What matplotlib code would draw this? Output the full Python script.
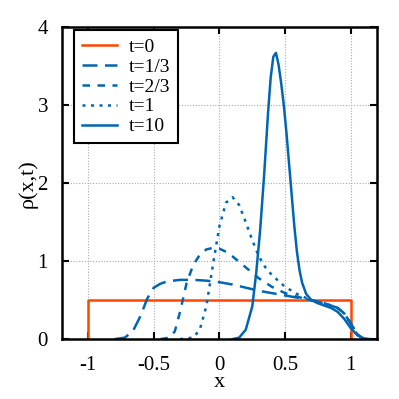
import matplotlib.pyplot as plt

plt.rcParams['font.family'] = ['Liberation Serif', 'DejaVu Serif']

# t=0 : box between -1 and 1
x0 = [-1, -1, 1, 1]
y0 = [0, 0.5, 0.5, 0]

# t=1/3
x1 = [-0.80, -0.72, -0.66, -0.6, -0.55, -0.5, -0.45, -0.4, -0.3, -0.2, -0.1, 0, 0.1, 0.2, 0.3,
      0.4, 0.5, 0.6, 0.7, 0.8, 0.9, 0.95, 1.0, 1.05, 1.1]
y1 = [0, 0.02, 0.1, 0.3, 0.52, 0.66, 0.71, 0.74, 0.76, 0.76, 0.75, 0.73, 0.7, 0.66, 0.62,
      0.59, 0.56, 0.53, 0.5, 0.46, 0.4, 0.33, 0.2, 0.06, 0.0]

# t=2/3
x2 = [-0.45, -0.38, -0.34, -0.3, -0.25, -0.2, -0.15, -0.1, -0.05, 0, 0.05, 0.1, 0.2, 0.3,
      0.4, 0.5, 0.6, 0.7, 0.8, 0.9, 0.95, 1.0, 1.05, 1.1]
y2 = [0, 0.02, 0.1, 0.35, 0.72, 0.95, 1.08, 1.15, 1.17, 1.16, 1.12, 1.06, 0.92, 0.78,
      0.67, 0.59, 0.54, 0.5, 0.46, 0.4, 0.33, 0.2, 0.06, 0]

# t=1
x3 = [-0.3, -0.2, -0.15, -0.1, -0.05, 0, 0.05, 0.1, 0.15, 0.2, 0.25, 0.3, 0.35, 0.4, 0.5,
      0.6, 0.7, 0.8, 0.9, 0.95, 1.0, 1.05, 1.1]
y3 = [0, 0.02, 0.12, 0.42, 0.95, 1.45, 1.75, 1.82, 1.72, 1.5, 1.27, 1.06, 0.92, 0.82, 0.67,
      0.57, 0.5, 0.45, 0.4, 0.33, 0.2, 0.06, 0]

# t=10
x4 = [0.1, 0.15, 0.2, 0.25, 0.28, 0.31, 0.34, 0.37, 0.39, 0.41, 0.43, 0.45, 0.47, 0.49, 0.51,
      0.53, 0.55, 0.57, 0.59, 0.61, 0.63, 0.66, 0.7, 0.75, 0.8, 0.85, 0.9, 0.95, 1.0, 1.05,
      1.1, 1.15]
y4 = [0, 0.02, 0.12, 0.42, 0.85, 1.4, 2.1, 2.9, 3.35, 3.62, 3.67, 3.52, 3.28, 3.0, 2.65,
      2.25, 1.85, 1.45, 1.12, 0.88, 0.72, 0.58, 0.5, 0.46, 0.43, 0.4, 0.35, 0.26, 0.14, 0.05,
      0.01, 0]

red = '#ff4500'
blue = '#0066b3'

fig = plt.figure(figsize=(3.99, 3.99), dpi=100)
ax = fig.add_axes([0.155, 0.150, 0.790, 0.782])

ax.plot(x0, y0, color=red, lw=1.8, label='t=0')
ax.plot(x1, y1, color=blue, lw=1.8, dashes=(6, 3), label='t=1/3')
ax.plot(x2, y2, color=blue, lw=1.8, dashes=(3, 3), label='t=2/3')
ax.plot(x3, y3, color=blue, lw=1.8, dashes=(1.2, 2.2), label='t=1')
ax.plot(x4, y4, color=blue, lw=1.8, label='t=10')

ax.set_xlim(-1.2, 1.2)
ax.set_ylim(0, 4)
ax.set_xticks([-1, -0.5, 0, 0.5, 1])
ax.set_xticklabels(['-1', '-0.5', '0', '0.5', '1'])
ax.set_yticks([0, 1, 2, 3, 4])
ax.grid(True, color='#aaaaaa', linestyle=(0, (1, 1.5)), lw=0.8)
ax.tick_params(direction='in', top=True, right=True, labelsize=15, length=5, width=1.5)
ax.tick_params(axis='x', pad=12)
ax.tick_params(axis='y', pad=10)
for s in ax.spines.values():
    s.set_linewidth(1.8)

ax.set_xlabel('x', fontsize=16)
ax.xaxis.set_label_coords(0.5, -0.11)
ax.set_ylabel('ρ(x,t)', fontsize=16, labelpad=0)

leg = ax.legend(loc='upper left', bbox_to_anchor=(0.04, 0.99), borderaxespad=0,
                fontsize=14, frameon=True, fancybox=False, framealpha=1,
                edgecolor='black', handlelength=1.8, borderpad=0.4,
                labelspacing=0.12, handletextpad=0.6)
leg.get_frame().set_linewidth(1.5)

fig.savefig('out.png', dpi=100)
